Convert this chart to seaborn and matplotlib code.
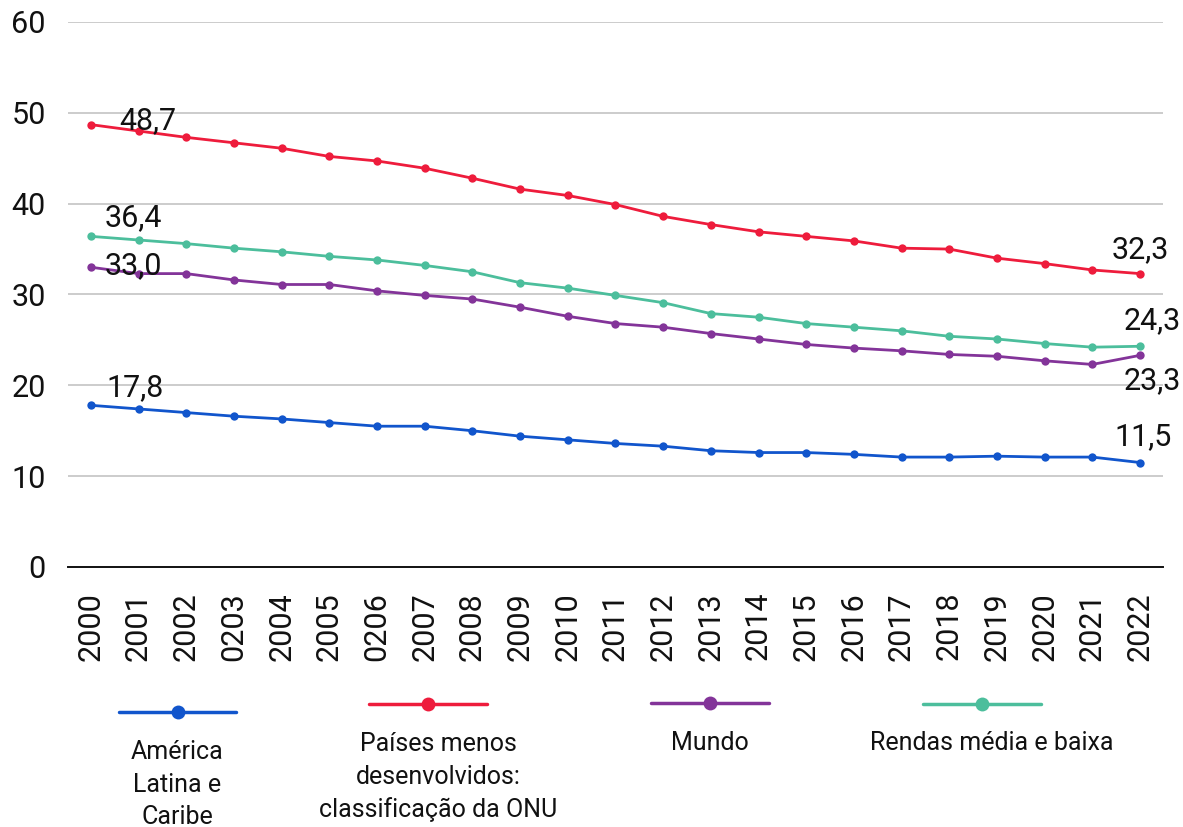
import numpy as np
import pandas as pd
import matplotlib
matplotlib.use("Agg")
import matplotlib.pyplot as plt
from matplotlib.lines import Line2D
import seaborn as sns

# Year tick labels (as printed on the axis)
anos = ["2000", "2001", "2002", "0203", "2004", "2005", "0206", "2007", "2008",
        "2009", "2010", "2011", "2012", "2013", "2014", "2015", "2016", "2017",
        "2018", "2019", "2020", "2021", "2022"]

series_nomes = ["América Latina e Caribe",
                "Países menos desenvolvidos: classificação da ONU",
                "Mundo",
                "Rendas média e baixa"]

legenda_textos = ["América\nLatina e\nCaribe",
                  "Países menos\ndesenvolvidos:\nclassificação da ONU",
                  "Mundo",
                  "Rendas média e baixa"]

america_latina = [17.8, 17.4, 17.0, 16.6, 16.3, 15.9, 15.5, 15.5, 15.0, 14.4, 14.0,
                  13.6, 13.3, 12.8, 12.6, 12.6, 12.4, 12.1, 12.1, 12.2, 12.1, 12.1, 11.5]
paises_menos_desenv = [48.7, 48.0, 47.3, 46.7, 46.1, 45.2, 44.7, 43.9, 42.8, 41.6, 40.9,
                       39.9, 38.6, 37.7, 36.9, 36.4, 35.9, 35.1, 35.0, 34.0, 33.4, 32.7, 32.3]
mundo = [33.0, 32.3, 32.3, 31.6, 31.1, 31.1, 30.4, 29.9, 29.5, 28.6, 27.6,
         26.8, 26.4, 25.7, 25.1, 24.5, 24.1, 23.8, 23.4, 23.2, 22.7, 22.3, 23.3]
rendas_media_baixa = [36.4, 36.0, 35.6, 35.1, 34.7, 34.2, 33.8, 33.2, 32.5, 31.3, 30.7,
                      29.9, 29.1, 27.9, 27.5, 26.8, 26.4, 26.0, 25.4, 25.1, 24.6, 24.2, 24.3]

cores = ["#1155cc", "#ee1c3c", "#833499", "#4cbe9c"]

valores = [america_latina, paises_menos_desenv, mundo, rendas_media_baixa]
pos = np.arange(len(anos))
df = pd.concat([pd.DataFrame({"pos": pos, "valor": v, "serie": n})
                for n, v in zip(series_nomes, valores)], ignore_index=True)

sns.set_theme(style="white")
plt.rcParams["font.family"] = ["Roboto", "DejaVu Sans"]

fig = plt.figure(figsize=(11.83, 8.27), dpi=100)
ax = fig.add_axes([0.0575, 0.3144, 0.9255, 0.6590])

sns.lineplot(data=df, x="pos", y="valor", hue="serie", palette=cores,
             hue_order=series_nomes, marker="o", markersize=6, markeredgewidth=0,
             linewidth=2.0, legend=False, ax=ax, zorder=3)

ax.set_xlim(-0.48, len(anos) - 1 + 0.48)
ax.set_ylim(0, 60)
ax.set_yticks(np.arange(0, 61, 10))
ax.set_xticks(pos)
ax.set_xticklabels(anos, rotation=90, fontsize=22, color="#111111")
ax.tick_params(axis="y", labelsize=22, labelcolor="#111111", pad=16, length=0)
ax.tick_params(axis="x", pad=18, length=0)
ax.set_xlabel("")
ax.set_ylabel("")
for t in ax.get_xticklabels():
    t.set_verticalalignment("top")
    t.set_horizontalalignment("center")

ax.grid(axis="y", color="#c8c8c8", linewidth=1.3)
ax.grid(axis="x", visible=False)
for s in ["top", "right", "left"]:
    ax.spines[s].set_visible(False)
ax.spines["bottom"].set_color("#111111")
ax.spines["bottom"].set_linewidth(1.4)
ax.spines["bottom"].set_zorder(4)


def fmt(v):
    return f"{v:.1f}".replace(".", ",")


# data labels: (values, index, offset in pixels)
rotulos = [
    (paises_menos_desenv, 0, (57, 4)),
    (rendas_media_baixa, 0, (42, 19)),
    (mundo, 0, (42, 2)),
    (america_latina, 0, (44, 18)),
    (paises_menos_desenv, -1, (0, 24)),
    (rendas_media_baixa, -1, (12, 26)),
    (mundo, -1, (12, -25)),
    (america_latina, -1, (3, 26)),
]
for vals, i, off in rotulos:
    idx = pos[i]
    ax.annotate(fmt(vals[i]), xy=(idx, vals[i]), xytext=off,
                textcoords="offset pixels", ha="center", va="center",
                fontsize=22, color="#111111", zorder=5)

# legend built below the axes: handle line with marker, label centered underneath
W, H = 1183, 827
legenda = [
    (119, 236, 712, 752, 0),
    (369, 487, 704, 744, 10),
    (651, 769, 703, 743, 0),
    (923, 1041, 704, 743, 10),
]
for (x0, x1, yl, yt, dx), cor, txt in zip(legenda, cores, legenda_textos):
    fig.add_artist(Line2D([x0 / W, x1 / W], [1 - yl / H, 1 - yl / H],
                          transform=fig.transFigure, color=cor, linewidth=2.5))
    xm = (x0 + x1) / 2
    fig.add_artist(Line2D([xm / W], [1 - yl / H], transform=fig.transFigure,
                          color=cor, marker="o", markersize=10, markeredgewidth=0))
    fig.text((xm + dx) / W, 1 - (yt - 12) / H, txt, ha="center", va="top",
             fontsize=18, color="#111111", linespacing=1.45,
             multialignment="center")

fig.savefig("out.png", dpi=100, facecolor="white")
